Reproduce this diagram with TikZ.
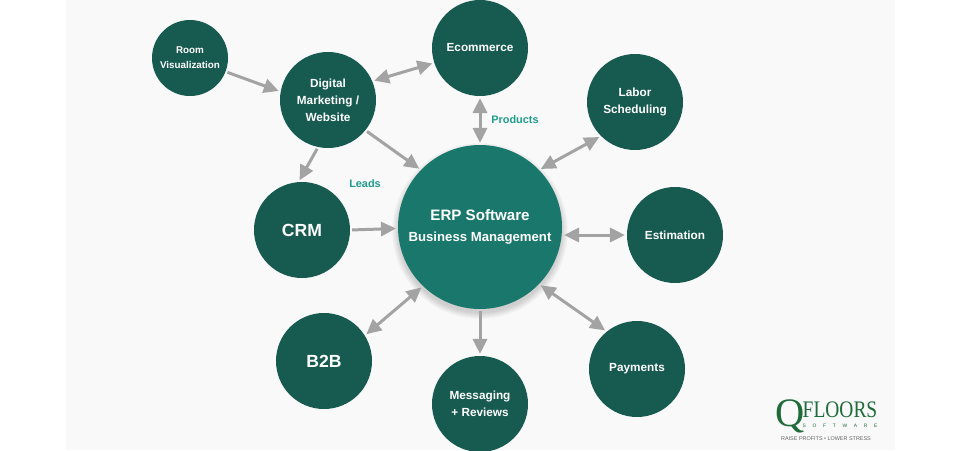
\documentclass[tikz,border=0pt]{standalone}
\usepackage{fontspec}
\setmainfont{Liberation Sans}
\newfontfamily\logofont[FakeStretch=0.82]{Liberation Serif}
\newfontfamily\logoqfont{Liberation Serif}
\usetikzlibrary{positioning,arrows.meta}
\definecolor{panelgray}{HTML}{F9F9F9}
\definecolor{satdark}{HTML}{165A50}
\definecolor{hubgreen}{HTML}{1A776B}
\definecolor{labelteal}{HTML}{1F9C8C}
\definecolor{arrowgray}{HTML}{A3A3A3}
\definecolor{logogreen}{HTML}{1F6B3A}
\tikzset{
    sat/.style={circle,fill=satdark,text=white,minimum size=1.92cm,inner sep=0pt,align=center,font=\bfseries\fontsize{6.7}{9.7}\selectfont},
    bigsat/.style={sat,font=\bfseries\fontsize{10}{12}\selectfont},
    roomsat/.style={sat,minimum size=1.52cm,font=\bfseries\fontsize{5.6}{8.6}\selectfont},
    hub/.style={circle,fill=hubgreen,text=white,minimum size=3.28cm,inner sep=0pt,align=center},
    tag/.style={text=labelteal,font=\bfseries\fontsize{6.2}{8}\selectfont},
    link/.style={draw=arrowgray,line width=1.7pt,shorten >=1pt,shorten <=1pt,-{Triangle[length=8.5pt,width=8pt]}},
    dlink/.style={link,{Triangle[length=8.5pt,width=8pt]}-{Triangle[length=8.5pt,width=8pt]}},
}
\begin{document}
\begin{tikzpicture}[on grid]
    \useasboundingbox (0,0) rectangle (19.2,-9);
    \fill[white] (0,0) rectangle (19.2,-9);
    \fill[panelgray] (1.32,0) rectangle (17.9,-9);

    % soft shadow under the hub
    \foreach \r in {1.64,1.66,...,1.78}
        \fill[black,opacity=0.025] (9.6,-4.62) circle (\r);

    \node[hub] (erp) at (9.6,-4.54) {\bfseries\fontsize{8.6}{11.5}\selectfont ERP Software\\[0pt]\bfseries\fontsize{7.5}{10}\selectfont Business Management};

    \node[sat, above=3.58cm of erp] (ecommerce) {Ecommerce};
    \node[sat, above right=2.5cm and 3.1cm of erp] (labor) {Labor\\Scheduling};
    \node[sat, below right=0.16cm and 3.9cm of erp] (estimation) {Estimation};
    \node[sat, below right=2.84cm and 3.14cm of erp] (payments) {Payments};
    \node[sat, below=3.54cm of erp] (messaging) {Messaging\\+ Reviews};
    \node[bigsat, below left=2.68cm and 3.12cm of erp] (btob) {B2B};
    \node[bigsat, below left=0.06cm and 3.56cm of erp] (crm) {CRM};
    \node[sat, above left=2.54cm and 3.04cm of erp] (digital) {Digital\\Marketing /\\Website};
    \node[roomsat, above left=0.84cm and 2.76cm of digital] (room) {Room\\Visualization};

    \node[tag, above left=0.86cm and 2.3cm of erp] (leads) {Leads};
    \node[tag, above right=2.14cm and 0.7cm of erp] (products) {Products};

    \node[below right=3.78cm and 6.2cm of erp, text=logogreen, font=\logoqfont\fontsize{23}{23}\selectfont] (logoq) {Q};
    \node[below right=3.66cm and 7.2cm of erp, text=logogreen, font=\logofont\fontsize{13.5}{14}\selectfont] (logo) {FLOORS};
    \node[below=0.32cm of logo, text=logogreen, font=\fontsize{2.8}{3}\selectfont] (logosub) {S\hspace{3.8pt}O\hspace{3.8pt}F\hspace{3.8pt}T\hspace{3.8pt}W\hspace{3.8pt}A\hspace{3.8pt}R\hspace{3.8pt}E};
    \node[below right=4.24cm and 6.92cm of erp, text=black!60, font=\fontsize{3.1}{4}\selectfont] (logotag) {RAISE PROFITS • LOWER STRESS};

    \draw[link] (room.-21) -- (digital.170);
    \draw[dlink] (digital.23) -- (ecommerce.198);
    \draw[link] (digital.258) -- (crm.94);
    \draw[link] (digital.-39) -- (erp.136);
    \draw[dlink] (ecommerce.south) -- (erp.north);
    \draw[dlink] (erp.44) -- (labor.225);
    \draw[dlink] (erp.east |- estimation.west) -- (estimation.west);
    \draw[dlink] (erp.-44) -- (payments.129);
    \draw[link] (erp.south) -- (messaging.north);
    \draw[dlink] (btob.32) -- (erp.226);
    \draw[link] (crm.east) -- (erp.181);
\end{tikzpicture}
\end{document}
